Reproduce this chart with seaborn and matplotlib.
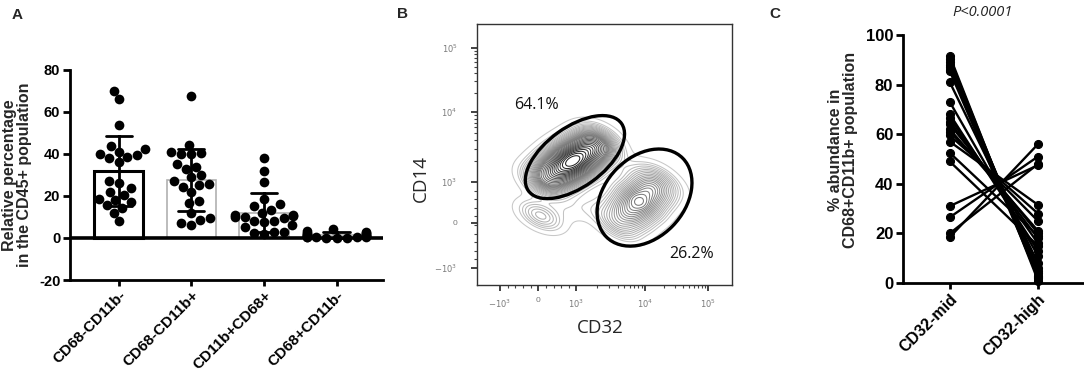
import numpy as np
import pandas as pd
import matplotlib
matplotlib.use("Agg")
import matplotlib.pyplot as plt
from matplotlib.patches import Ellipse
import seaborn as sns

# ---------------- data ----------------
A_categories = ["CD68-CD11b-", "CD68-CD11b+", "CD11b+CD68+", "CD68+CD11b-"]
A_vals1 = [70, 66, 54, 44, 42.5, 41, 40, 39.5, 38.5, 38, 36, 27, 26, 24, 22, 20.5,
           18.5, 18, 17, 15.5, 14.5, 12, 8]
A_vals2 = [67.5, 44.5, 41, 40.5, 40, 40, 35, 34, 33, 30, 29, 27, 25.5, 25, 24.5, 22,
           17.5, 16.5, 12, 9.5, 8.5, 7, 6]
A_vals3 = [38, 32, 26.5, 18.5, 16, 15, 13.5, 12, 11, 10, 11, 10.5, 10, 9.5, 8, 7.5,
           8, 6, 5, 3, 2.5, 2.7, 2]
A_vals4 = [4.5, 3.5, 3, 2.5, 2.5, 2, 2, 1.5, 1.5, 1, 1, 1, 0.8, 0.5, 0.5, 0.5, 0.3,
           0.3, 0.2, 0.2, 0.1]
A_yticks = [-20, 0, 20, 40, 60, 80]
A_ylabel = "Relative percentage\nin the CD45+ population"

# flow-cytometry anchor points (display units of the biexponential axes)
flow_up_x = [0.260, 0.301, 0.338, 0.375, 0.412, 0.449, 0.481,
             0.240, 0.281, 0.318, 0.355, 0.392, 0.429, 0.461,
             0.280, 0.321, 0.358, 0.395, 0.432, 0.469, 0.501]
flow_up_y = [0.395, 0.423, 0.449, 0.475, 0.501, 0.527, 0.550,
             0.424, 0.452, 0.478, 0.504, 0.530, 0.556, 0.579,
             0.366, 0.394, 0.420, 0.446, 0.472, 0.498, 0.521]
flow_up_w = [3, 4, 5, 6, 5, 4, 3,
             1.5, 2, 2.5, 3, 2.5, 2, 1.5,
             1.5, 2, 2.5, 3, 2.5, 2, 1.5]
flow_lo_x = [0.550, 0.593, 0.635, 0.677, 0.713,
             0.515, 0.558, 0.600, 0.642, 0.678,
             0.585, 0.628, 0.670, 0.712, 0.748]
flow_lo_y = [0.235, 0.278, 0.320, 0.362, 0.398,
             0.270, 0.313, 0.355, 0.397, 0.433,
             0.200, 0.243, 0.285, 0.327, 0.363]
flow_lo_w = [2, 3, 4, 3, 2,
             1, 1.5, 2, 1.5, 1,
             1, 1.5, 2, 1.5, 1]
flow_misc_x = [0.225, 0.250, 0.275, 0.34, 0.40, 0.46, 0.60]
flow_misc_y = [0.285, 0.265, 0.245, 0.29, 0.29, 0.30, 0.45]
flow_misc_w = [1.0, 1.3, 0.9, 0.4, 0.35, 0.4, 0.3]

gate_cx = [0.384, 0.657]
gate_cy = [0.490, 0.335]
gate_w = [0.447, 0.425]
gate_h = [0.230, 0.310]
gate_angle = [35, 45]
gate_labels = ["64.1%", "26.2%"]
gate_label_x = [0.235, 0.843]
gate_label_y = [0.690, 0.120]

B_tick_pos_x = [0.09, 0.24, 0.39, 0.659, 0.906]
B_tick_lab_x = [r"$-10^3$", "0", r"$10^3$", r"$10^4$", r"$10^5$"]
B_tick_pos_y = [0.065, 0.238, 0.395, 0.663, 0.908]
B_tick_lab_y = [r"$-10^3$", "0", r"$10^3$", r"$10^4$", r"$10^5$"]

C_categories = ["CD32-mid", "CD32-high"]
C_mid = [91.5, 90.5, 89, 88, 87, 86, 85.5, 81, 73, 68, 66.5, 65, 64, 62, 61, 59.5,
         57, 52.5, 49, 31, 26.5, 20, 18.5]
C_high = [1, 2, 3, 5, 4, 6, 2.5, 8, 11, 13, 16, 18, 20, 21, 25, 28, 31.5, 19, 15,
          47.5, 51, 48, 56]
C_yticks = [0, 20, 40, 60, 80, 100]
C_ylabel = "% abundance in\nCD68+CD11b+ population"
C_title = "P<0.0001"

# ---------------- style ----------------
sns.set_style("ticks")
plt.rcParams["font.family"] = ["Liberation Sans", "DejaVu Sans"]
plt.rcParams["axes.unicode_minus"] = False
plt.rcParams["axes.edgecolor"] = "black"
plt.rcParams["xtick.color"] = "black"
plt.rcParams["ytick.color"] = "black"

W, H = 1084, 373
fig = plt.figure(figsize=(W / 100, H / 100), dpi=100)


def fig_ax(left, top, right, bottom):
    return fig.add_axes([left / W, 1 - bottom / H, (right - left) / W, (bottom - top) / H])


# ---------------- Panel A ----------------
axA = fig_ax(70, 70, 383, 280)
all_vals = [A_vals1, A_vals2, A_vals3, A_vals4]
dfA = pd.DataFrame({
    "group": np.concatenate([[c] * len(v) for c, v in zip(A_categories, all_vals)]),
    "value": np.concatenate(all_vals),
})
sns.barplot(data=dfA, x="group", y="value", order=A_categories, errorbar="sd",
            color="white", width=0.68, capsize=0.36,
            err_kws={"color": "black", "linewidth": 2}, ax=axA, zorder=1)
for i, p in enumerate(axA.patches):
    if i == 0:
        p.set_edgecolor("black")
        p.set_linewidth(2.2)
    else:
        p.set_edgecolor("#b0b0b0")
        p.set_linewidth(1.2)
    p.set_facecolor("white")
sns.swarmplot(data=dfA, x="group", y="value", order=A_categories, color="black",
              size=7.0, linewidth=0, ax=axA, warn_thresh=1.0, zorder=3)
for ln in axA.lines:
    ln.set_zorder(4)
axA.axhline(0, color="black", lw=2.6, zorder=5)
axA.set_ylim(-20, 80)
axA.set_xlim(-0.67, 3.64)
axA.set_yticks(A_yticks)
axA.set_xlabel("")
axA.set_ylabel(A_ylabel, fontsize=11.5, fontweight="bold", linespacing=1.0)
axA.yaxis.set_label_coords(-0.12, 0.5)
sns.despine(ax=axA)
for s in ["left", "bottom"]:
    axA.spines[s].set_linewidth(2)
axA.tick_params(axis="y", labelsize=10.5, width=2, length=5, pad=2)
axA.tick_params(axis="x", labelsize=11, width=2, length=4, pad=2)
axA.set_xticks(range(len(A_categories)))
axA.set_xticklabels(A_categories, rotation=45, ha="right", rotation_mode="anchor",
                    fontweight="bold")
for t in axA.get_yticklabels():
    t.set_fontweight("bold")
fig.text(17 / W, 1 - 15 / H, "A", fontsize=11, fontweight="bold", ha="center", va="center")

# ---------------- Panel B ----------------
axB = fig_ax(477, 24, 732, 285)
flow_x = flow_up_x + flow_lo_x + flow_misc_x
flow_y = flow_up_y + flow_lo_y + flow_misc_y
flow_w = flow_up_w + flow_lo_w + flow_misc_w
grey_cmap = sns.blend_palette(["#c8c8c8", "#6a6a6a", "#1a1a1a"], as_cmap=True)
sns.kdeplot(x=flow_x, y=flow_y, weights=flow_w, bw_adjust=0.62, levels=34,
            thresh=0.012, cmap=grey_cmap, linewidths=0.75, ax=axB)
for cx, cy, gw, gh, ga in zip(gate_cx, gate_cy, gate_w, gate_h, gate_angle):
    axB.add_patch(Ellipse((cx, cy), gw, gh, angle=ga, fill=False, edgecolor="black",
                          lw=2.4, zorder=5))
for lab, lx, ly in zip(gate_labels, gate_label_x, gate_label_y):
    axB.text(lx, ly, lab, fontsize=11.5, family=["Open Sans", "DejaVu Sans"],
             ha="center", va="center", color="#111111")
axB.set_xlim(0, 1)
axB.set_ylim(0, 1)
axB.set_xticks(B_tick_pos_x)
axB.set_xticklabels(B_tick_lab_x)
axB.set_yticks(B_tick_pos_y)
axB.set_yticklabels(B_tick_lab_y)
# minor (log) ticks between decades
minor_x = []
minor_y = []
for lo, hi in [(B_tick_pos_x[2], B_tick_pos_x[3]), (B_tick_pos_x[3], B_tick_pos_x[4])]:
    minor_x += [lo + np.log10(k) * (hi - lo) for k in range(2, 10)]
for lo, hi in [(B_tick_pos_y[2], B_tick_pos_y[3]), (B_tick_pos_y[3], B_tick_pos_y[4])]:
    minor_y += [lo + np.log10(k) * (hi - lo) for k in range(2, 10)]
minor_x += list(np.linspace(B_tick_pos_x[0], B_tick_pos_x[2], 11)[1:-1])
minor_y += list(np.linspace(B_tick_pos_y[0], B_tick_pos_y[2], 11)[1:-1])
axB.set_xticks(minor_x, minor=True)
axB.set_yticks(minor_y, minor=True)
axB.tick_params(axis="both", which="major", labelsize=6, labelcolor="#7a7a7a",
                length=4, width=1.2, color="#222222")
axB.tick_params(axis="both", which="minor", length=2.5, width=0.8, color="#444444")
axB.tick_params(axis="y", which="major", pad=10)
axB.tick_params(axis="x", which="major", pad=5)
for s in axB.spines.values():
    s.set_linewidth(1.0)
    s.set_color("#333333")
axB.set_xlabel("")
axB.set_ylabel("")
fig.text(600 / W, 1 - 328 / H, "CD32", fontsize=13.5, family=["Open Sans", "DejaVu Sans"],
         ha="center", va="center")
fig.text(421 / W, 1 - 178 / H, "CD14", fontsize=13.5, family=["Open Sans", "DejaVu Sans"],
         ha="center", va="center", rotation=90)
fig.text(403 / W, 1 - 14 / H, "B", fontsize=11, fontweight="bold", ha="center", va="center")

# ---------------- Panel C ----------------
axC = fig_ax(903, 35, 1083, 283)
n = len(C_mid)
dfC = pd.DataFrame({
    "id": np.concatenate([np.arange(n), np.arange(n)]),
    "pos": np.concatenate([np.zeros(n), np.ones(n)]),
    "value": np.concatenate([C_mid, C_high]),
})
sns.lineplot(data=dfC, x="pos", y="value", units="id", estimator=None, color="black",
             marker="o", markersize=5.8, markeredgecolor="black", linewidth=1.7,
             legend=False, ax=axC)
for ln in axC.lines:
    ln.set_clip_on(False)
axC.set_xlim(-0.53, 1.51)
axC.set_ylim(0, 100)
axC.set_yticks(C_yticks)
axC.set_xticks([0, 1])
axC.set_xticklabels(C_categories, rotation=45, ha="right", rotation_mode="anchor",
                    fontweight="bold")
axC.set_xlabel("")
axC.set_ylabel(C_ylabel, fontsize=11.5, fontweight="bold", linespacing=1.0)
axC.yaxis.set_label_coords(-0.25, 0.536)
sns.despine(ax=axC)
for s in ["left", "bottom"]:
    axC.spines[s].set_linewidth(2)
axC.tick_params(axis="y", labelsize=12, width=2, length=5, pad=2)
axC.tick_params(axis="x", labelsize=11.5, width=2, length=4, pad=2)
for t in axC.get_yticklabels():
    t.set_fontweight("bold")
fig.text(983 / W, 1 - 13 / H, C_title, fontsize=10.5, style="italic",
         family=["Open Sans", "DejaVu Sans"], ha="center", va="center", color="#222222")
fig.text(775 / W, 1 - 14 / H, "C", fontsize=11, fontweight="bold", ha="center", va="center")

fig.savefig("out.png", dpi=100)
